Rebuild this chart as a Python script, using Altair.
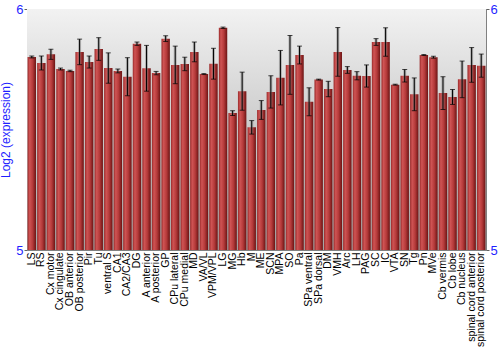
import altair as alt
import pandas as pd

regions = ["LS", "RS", "Cx motor", "Cx cingulate", "OB anterior", "OB posterior", "Pir", "Tu",
           "ventral S", "CA1", "CA2/CA3", "DG", "A anterior", "A posterior", "GP", "CPu lateral",
           "CPu medial", "MD", "VA/VL", "VPM/VPL", "LG", "MG", "Hb", "M", "ME", "SCN", "MPA", "SO",
           "Pa", "SPa ventral", "SPa dorsal", "DM", "VMH", "Arc", "LH", "PAG", "SC", "IC", "VTA",
           "SN", "Tg", "Pn", "MVe", "Cb vermis", "Cb lobe", "Cb nucleus", "spinal cord anterior",
           "spinal cord posterior"]
means = [5.801, 5.776, 5.812, 5.751, 5.743, 5.822, 5.780, 5.834,
         5.755, 5.743, 5.719, 5.856, 5.754, 5.734, 5.877, 5.768,
         5.772, 5.822, 5.730, 5.773, 5.922, 5.568, 5.659, 5.509, 5.581, 5.656, 5.715, 5.768,
         5.809, 5.615, 5.707, 5.668, 5.822, 5.747, 5.723, 5.722, 5.863, 5.863, 5.686,
         5.723, 5.646, 5.809, 5.800, 5.651, 5.635, 5.708, 5.768,
         5.765]
errors = [0.004, 0.029, 0.021, 0.004, 0.003, 0.053, 0.025, 0.047,
          0.063, 0.008, 0.079, 0.007, 0.095, 0.007, 0.012, 0.078,
          0.028, 0.041, 0.002, 0.064, 0.003, 0.010, 0.079, 0.028, 0.039, 0.067, 0.113, 0.122,
          0.037, 0.058, 0.002, 0.032, 0.101, 0.014, 0.017, 0.046, 0.014, 0.059, 0.002,
          0.026, 0.068, 0.002, 0.004, 0.068, 0.031, 0.076, 0.072,
          0.048]
y_ticks = [5, 6]
y_title = "Log2 (expression)"

df = pd.DataFrame({"region": regions, "mean": means, "err": errors})
df["lo"] = df["mean"] - df["err"]
df["hi"] = df["mean"] + df["err"]

W, H = 459, 241
BLUE = "#1f1fff"
FONT = "Liberation Sans"

xscale = alt.Scale(domain=regions, paddingInner=0.12, paddingOuter=0.06)
yscale = alt.Scale(domain=[5, 6], zero=False, clamp=True, nice=False)
x_axis = alt.Axis(labelAngle=-90, labelFontSize=10.5, labelColor="black", labelFont=FONT,
                  ticks=False, domain=False, labelPadding=2, labelOverlap=False)
X = alt.X("region:N", sort=regions, scale=xscale, title=None, axis=x_axis)

bg_grad = alt.Gradient(gradient="linear", x1=0, x2=0, y1=0, y2=1,
                       stops=[alt.GradientStop(color="#f2f2f2", offset=0),
                              alt.GradientStop(color="#a4a4a4", offset=1)])
bar_grad = alt.Gradient(gradient="linear", x1=0, x2=1, y1=0, y2=0,
                        stops=[alt.GradientStop(color="#9a2a2a", offset=0),
                               alt.GradientStop(color="#cf5454", offset=0.25),
                               alt.GradientStop(color="#b53a3a", offset=0.6),
                               alt.GradientStop(color="#6b1414", offset=1)])

base = alt.Chart(df)

background = alt.Chart(pd.DataFrame({"a": [0]})).mark_rect(color=bg_grad).encode(
    x=alt.value(0), x2=alt.value(W), y=alt.value(0), y2=alt.value(H))

bars = base.mark_bar(color=bar_grad).encode(
    x=X,
    y=alt.Y("mean:Q", scale=yscale,
            axis=alt.Axis(values=y_ticks, format="d", orient="left", title=y_title,
                          titleColor=BLUE, titleFont=FONT, titleFontSize=12,
                          titleFontWeight="normal", titlePadding=3,
                          labelColor=BLUE, labelFont=FONT, labelFontSize=13,
                          tickSize=3, tickColor="#606060", domainColor="#808080",
                          labelPadding=1, grid=False)),
    y2=alt.datum(5))

shadow = base.mark_rule(color="#777777", strokeWidth=3, opacity=0.45).encode(
    x=X, y=alt.Y("lo:Q", scale=yscale, axis=None), y2="hi:Q")
rule = base.mark_rule(color="black", strokeWidth=1).encode(
    x=X, y=alt.Y("lo:Q", scale=yscale, axis=None), y2="hi:Q")
cap_lo = base.mark_tick(color="black", size=5, thickness=1, orient="horizontal").encode(
    x=X, y=alt.Y("lo:Q", scale=yscale, axis=None))
cap_hi = base.mark_tick(color="black", size=5, thickness=1, orient="horizontal").encode(
    x=X, y=alt.Y("hi:Q", scale=yscale, axis=None))

right_axis = base.mark_point(opacity=0).encode(
    x=X,
    y=alt.Y("mean:Q", scale=yscale,
            axis=alt.Axis(values=y_ticks, format="d", orient="right", title=None,
                          labelColor=BLUE, labelFont=FONT, labelFontSize=13,
                          tickSize=3, tickColor="#606060", domainColor="#808080",
                          labelPadding=1, grid=False)))

chart = alt.layer(background, bars, shadow, rule, cap_lo, cap_hi, right_axis).resolve_axis(
    y="independent").properties(
    width=W, height=H,
    autosize=alt.AutoSizeParams(type="none"),
    padding={"left": 27, "top": 9, "right": 14, "bottom": 100},
    background="white",
).configure_view(stroke="#808080", strokeWidth=1)

chart.save("out.html", embed_options={"renderer": "svg", "actions": False})
